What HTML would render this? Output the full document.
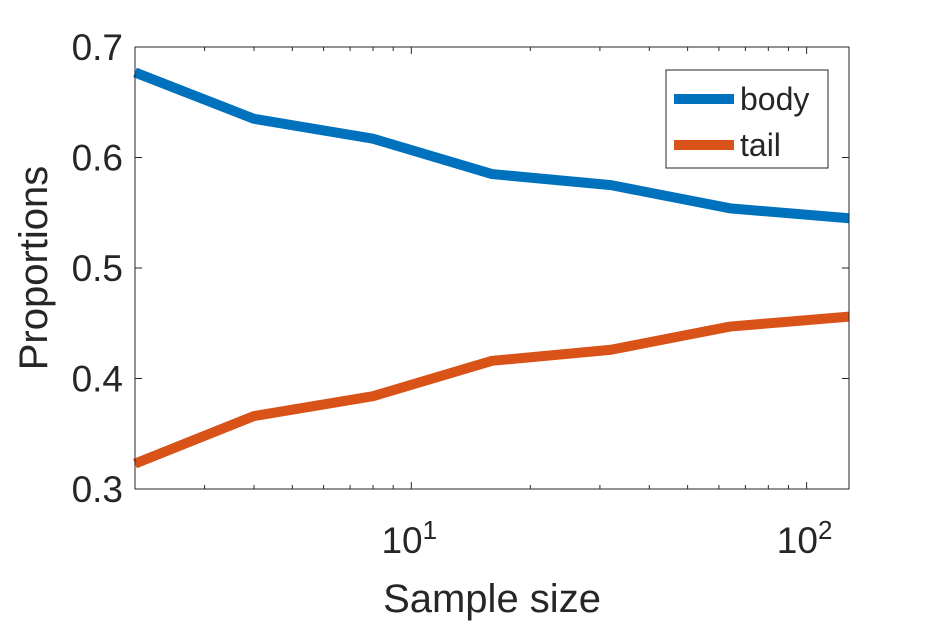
<!DOCTYPE html>
<html><head><meta charset="utf-8"><style>
html,body{margin:0;padding:0;background:#fff;}
svg text{font-family:"Liberation Sans",Arial,sans-serif;fill:#262626;}
</style></head><body>
<svg width="938" height="625" viewBox="0 0 938 625">
<rect x="0" y="0" width="938" height="625" fill="#fff"/>
<g id="plot"></g>
</svg>
<script>
const sampleSizes=[2,4,8,16,32,64,128];
const bodyVals=[0.677,0.635,0.617,0.585,0.575,0.554,0.545];
const tailVals=[0.323,0.366,0.384,0.416,0.426,0.447,0.456];
const yTicks=[0.3,0.4,0.5,0.6,0.7];
const yTickLabels=["0.3","0.4","0.5","0.6","0.7"];
const xMajor=[10,100];
const xMajorExp=["1","2"];
const xMin=2,xMax=128,yMin=0.3,yMax=0.7;
const L=135,R=849,T=47,B=489;
const ns="http://www.w3.org/2000/svg";
const g=document.getElementById('plot');
function sx(v){return L+(Math.log10(v)-Math.log10(xMin))/(Math.log10(xMax)-Math.log10(xMin))*(R-L);}
function sy(v){return B-(v-yMin)/(yMax-yMin)*(B-T);}
function mk(tag,attrs,parent){const e=document.createElementNS(ns,tag);for(const k in attrs)e.setAttribute(k,attrs[k]);(parent||g).appendChild(e);return e;}
const box=mk('rect',{x:L,y:T,width:R-L,height:B-T,fill:'none',stroke:'#262626','stroke-width':1});


// y ticks
yTicks.forEach((v,i)=>{
 const y=sy(v);
 const t1=mk('line',{x1:L,y1:y,x2:L+7,y2:y,stroke:'#262626'});
 
 
 const t2=mk('line',{x1:R,y1:y,x2:R-7,y2:y,stroke:'#262626'});
 
 
 const tx=mk('text',{x:L-12,y:y+13,'text-anchor':'end','font-size':37});
 tx.textContent=yTickLabels[i];
 
 
});
// x minor/major ticks
for(let d=1;d<=100;d*=10){for(let m=1;m<10;m++){const v=d*m;if(v<xMin||v>xMax)continue;
 const x=sx(v);const len=(m===1)?7:4;
 const a=mk('line',{x1:x,y1:B,x2:x,y2:B-len,stroke:'#262626'});
 
 
 const b=mk('line',{x1:x,y1:T,x2:x,y2:T+len,stroke:'#262626'});
 
 
}}
xMajor.forEach((v,i)=>{
 const x=sx(v);
 const t=mk('text',{x:x-2,y:B+64,'text-anchor':'middle','font-size':37});
 
 
 t.appendChild(document.createTextNode('10'));
 const s=mk('tspan',{dy:-14,'font-size':26},t);s.textContent=xMajorExp[i];
});
// series
function line(vals,color,name){
 const p=mk('polyline',{points:sampleSizes.map((s,i)=>sx(s)+','+sy(vals[i])).join(' '),fill:'none',stroke:color,'stroke-width':10,'stroke-linejoin':'round'});
 
 
}
line(bodyVals,'#0072BD','body-line');
line(tailVals,'#D95319','tail-line');
// redraw box edges over lines
mk('rect',{x:L,y:T,width:R-L,height:B-T,fill:'none',stroke:'#262626','stroke-width':1});
// legend
const lg=mk('g',{});


mk('rect',{x:666,y:70,width:162,height:98,fill:'#fff',stroke:'#262626'},lg);
[['body','#0072BD',99],['tail','#D95319',145]].forEach(([n,c,y])=>{
 const e=mk('g',{},lg);
 
 
 mk('line',{x1:674,y1:y,x2:734,y2:y,stroke:c,'stroke-width':10},e);
 const t=mk('text',{x:740,y:y+11,'font-size':32},e);t.textContent=n;
});
// axis labels
const xl=mk('text',{x:492,y:612,'text-anchor':'middle','font-size':40});
xl.textContent='Sample size';


const yl=mk('text',{x:0,y:0,'text-anchor':'middle','font-size':40,transform:'translate(47,268) rotate(-90)'});
yl.textContent='Proportions';


</script>
</body></html>
